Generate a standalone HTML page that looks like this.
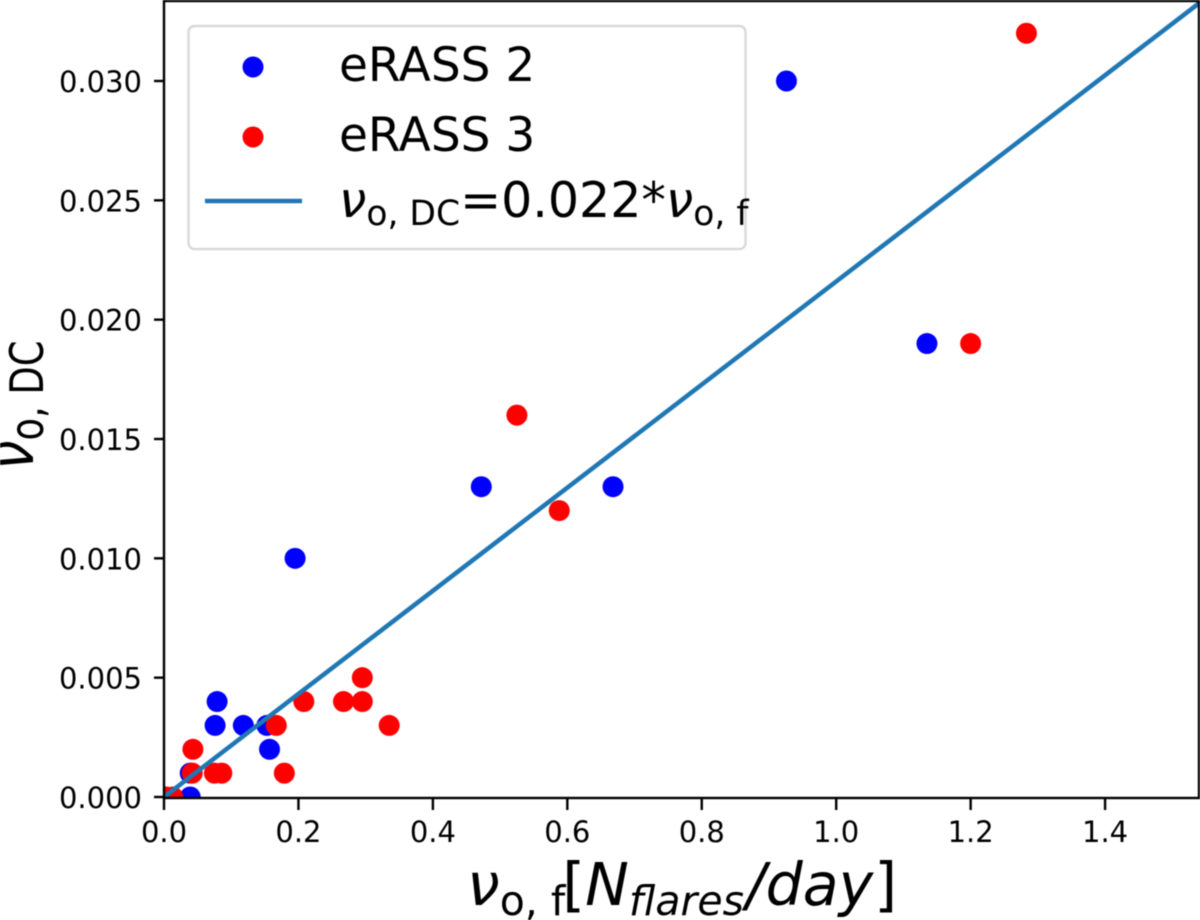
<!DOCTYPE html>
<html>
<head>
<meta charset="utf-8">
<style>
html,body{margin:0;padding:0;background:#fff;width:1200px;height:920px;overflow:hidden}
svg{display:block;filter:blur(0.5px)}
text{font-family:"DejaVu Sans","Liberation Sans",sans-serif;fill:#000}
.it{font-style:italic}
</style>
</head>
<body>
<svg id="chart" xmlns="http://www.w3.org/2000/svg" width="1200" height="920" viewBox="0 0 1200 920">
  <defs><clipPath id="plot-clip"><rect x="164" y="1" width="1035" height="797"/></clipPath></defs>
  <rect x="164" y="1" width="1035" height="797" fill="#fff"/>
  <g id="marks" clip-path="url(#plot-clip)"></g>
  <g id="axes"></g>
  <text x="467" y="905" font-size="58.5"><tspan class="it">ν</tspan><tspan font-size="41" dy="10">o, f</tspan><tspan dy="-10" dx="-3">[</tspan><tspan class="it">N</tspan><tspan class="it" font-size="41" dy="10">flares</tspan><tspan class="it" dy="-10" dx="2">/day</tspan><tspan dx="1">]</tspan></text>
  <text transform="translate(33,470) rotate(-90) scale(0.8,1)" x="0" y="0" font-size="66"><tspan class="it">ν</tspan><tspan font-size="46" dy="10">o, DC</tspan></text>
  <g>
    <rect x="188.5" y="26" width="557" height="223" rx="6" fill="#fff" fill-opacity="0.8" stroke="#d9d9d9" stroke-width="2.4"/>
    <circle cx="253" cy="67" r="10.5" fill="#0000ff"/>
    <text x="339" y="81" font-size="47">eRASS 2</text>
    <circle cx="253" cy="137" r="10.5" fill="#ff0000"/>
    <text x="339" y="151" font-size="47">eRASS 3</text>
    <line x1="205" x2="302" y1="201" y2="201" stroke="#1f77b4" stroke-width="4.5"/>
    <text x="339" y="217" font-size="49"><tspan class="it">ν</tspan><tspan font-size="34.5" dy="8">o, DC</tspan><tspan dy="-8">=0.022*</tspan><tspan class="it">ν</tspan><tspan font-size="34.5" dy="8">o, f</tspan></text>
  </g>
</svg>
<script>
const xTickLabels = ["0.0","0.2","0.4","0.6","0.8","1.0","1.2","1.4"];
const yTickLabels = ["0.000","0.005","0.010","0.015","0.020","0.025","0.030"];
const erass2X = [0.926,1.135,0.472,0.668,0.195,0.079,0.076,0.118,0.153,0.157,0.039,0.039];
const erass2Y = [0.030,0.019,0.013,0.013,0.010,0.004,0.003,0.003,0.003,0.002,0.001,0.000];
const erass3X = [1.283,1.200,0.525,0.588,0.043,0.042,0.075,0.086,0.167,0.179,0.208,0.267,0.295,0.295,0.335,0.003,0.013];
const erass3Y = [0.032,0.019,0.016,0.012,0.002,0.001,0.001,0.001,0.003,0.001,0.004,0.004,0.004,0.005,0.003,0.000,0.000];
const fitSlope = [0.0216];
const fitRange = [0, 1.54];

const NS = "http://www.w3.org/2000/svg";
const sx = v => 164 + v * 672.2;
const sy = v => 797 - v * 23867;
function make(tag, attrs, parent, text) {
  const el = document.createElementNS(NS, tag);
  for (const k in attrs) el.setAttribute(k, attrs[k]);
  if (text !== undefined) el.textContent = text;
  parent.appendChild(el);
  return el;
}
const marks = document.getElementById("marks");
const axes = document.getElementById("axes");

erass2X.forEach((x, i) => {
  const c = make("circle", {cx: sx(x), cy: sy(erass2Y[i]), r: 10.5, fill: "#0000ff"}, marks);
  
  
});
erass3X.forEach((x, i) => {
  const c = make("circle", {cx: sx(x), cy: sy(erass3Y[i]), r: 10.5, fill: "#ff0000"}, marks);
  
  
});
const fit = make("line", {
  x1: sx(fitRange[0]), y1: sy(fitRange[0] * fitSlope[0]),
  x2: sx(fitRange[1]), y2: sy(fitRange[1] * fitSlope[0]),
  stroke: "#1f77b4", "stroke-width": 4.5
}, marks);



xTickLabels.forEach(t => {
  const v = parseFloat(t), px = sx(v);
  const tick = make("line", {x1: px, x2: px, y1: 798, y2: 810, stroke: "#000", "stroke-width": 2.4}, axes);
  
  
  const lab = make("text", {x: px, y: 842, "text-anchor": "middle", "font-size": 29}, axes, t);
  
  
});
yTickLabels.forEach(t => {
  const v = parseFloat(t), py = sy(v);
  const tick = make("line", {x1: 154, x2: 164, y1: py, y2: py, stroke: "#000", "stroke-width": 2.4}, axes);
  
  
  const lab = make("text", {x: 142, y: py + 11, "text-anchor": "end", "font-size": 29}, axes, t);
  
  
});
const spine = make("rect", {x: 164, y: 1, width: 1035, height: 797, fill: "none", stroke: "#000", "stroke-width": 2.4}, axes);


</script>
</body>
</html>
